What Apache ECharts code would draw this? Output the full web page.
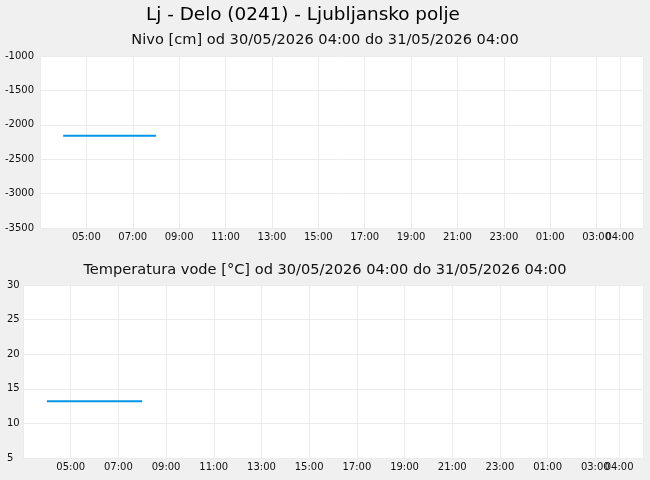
<!DOCTYPE html>
<html>
<head>
<meta charset="utf-8">
<script src="https://cdn.jsdelivr.net/npm/echarts@6/dist/echarts.min.js"></script>
<style>
html,body{margin:0;padding:0;background:#f0f0f0;}
#c{width:650px;height:480px;}
</style>
</head>
<body>
<div id="c"></div>
<script>
// hours since 30/05/2026 00:00
const times = [4, 5, 6, 7, 8];
const nivoValues = [-2160, -2160, -2160, -2160, -2160];
const tempValues = [13.2, 13.2, 13.2, 13.2, 13.2];
const xMin = 3, xMax = 29, xStep = 2;
const endHour = 28;
const mainTitle = 'Lj - Delo (0241) - Ljubljansko polje';
const nivoTitle = 'Nivo [cm] od 30/05/2026 04:00 do 31/05/2026 04:00';
const tempTitle = 'Temperatura vode [°C] od 30/05/2026 04:00 do 31/05/2026 04:00';

const FONT = 'DejaVu Sans';
function hh(v){ const h = ((Math.round(v) % 24) + 24) % 24; return (h < 10 ? '0' : '') + h + ':00'; }
const lineColor = '#0396e8';
const splitStyle = { show: true, lineStyle: { color: '#ececec', width: 1 } };

function xMainAxis(gi){
  return {
    type: 'value', gridIndex: gi, position: 'bottom', min: xMin, max: xMax, interval: xStep,
    axisLine: {show:false}, axisTick: {show:false},
    splitLine: splitStyle,
    axisLabel: { fontFamily: FONT, fontSize: 10, color: '#111', margin: 4,
      showMinLabel: false, showMaxLabel: false, formatter: hh }
  };
}
function xEndAxis(gi){
  return {
    type: 'value', gridIndex: gi, position: 'bottom', offset: 0, min: xMin, max: xMax, interval: endHour - xMin,
    axisLine: {show:false}, axisTick: {show:false},
    splitLine: splitStyle,
    axisLabel: { fontFamily: FONT, fontSize: 10, color: '#111', margin: 4,
      showMinLabel: false, showMaxLabel: false,
      formatter: v => (Math.round(v) === endHour ? hh(v) : '') }
  };
}

const chart = echarts.init(document.getElementById('c'));
chart.setOption({
  backgroundColor: '#f0f0f0',
  animation: false,
  title: [
    { text: mainTitle, left: 141, top: 1, textStyle: { fontFamily: FONT, fontSize: 18.4, fontWeight: 'normal', color: '#000' } },
    { text: nivoTitle, left: 'center', top: 28, textStyle: { fontFamily: FONT, fontSize: 14.6, fontWeight: 'normal', color: '#111' } },
    { text: tempTitle, left: 'center', top: 258, textStyle: { fontFamily: FONT, fontSize: 14.6, fontWeight: 'normal', color: '#111' } }
  ],
  grid: [
    { left: 40, right: 7, top: 56, height: 172, backgroundColor: '#fff', show: true, borderWidth: 0 },
    { left: 23, right: 7, top: 285, height: 173, backgroundColor: '#fff', show: true, borderWidth: 0 }
  ],
  xAxis: [ xMainAxis(0), xEndAxis(0), xMainAxis(1), xEndAxis(1) ],
  yAxis: [
    { type: 'value', gridIndex: 0, min: -3500, max: -1000, interval: 500,
      axisLine: {show:false}, axisTick: {show:false}, splitLine: splitStyle,
      axisLabel: { fontFamily: FONT, fontSize: 10, color: '#111', align: 'left', margin: 35, formatter: v => String(v) } },
    { type: 'value', gridIndex: 1, min: 5, max: 30, interval: 5,
      axisLine: {show:false}, axisTick: {show:false}, splitLine: splitStyle,
      axisLabel: { fontFamily: FONT, fontSize: 10, color: '#111', align: 'left', margin: 16, formatter: v => String(v) } }
  ],
  series: [
    { type: 'line', xAxisIndex: 0, yAxisIndex: 0, showSymbol: false, symbol: 'none',
      lineStyle: { color: lineColor, width: 2 }, data: times.map((t, i) => [t, nivoValues[i]]) },
    { type: 'line', xAxisIndex: 2, yAxisIndex: 1, showSymbol: false, symbol: 'none',
      lineStyle: { color: lineColor, width: 2 }, data: times.map((t, i) => [t, tempValues[i]]) }
  ]
});
</script>
</body>
</html>
